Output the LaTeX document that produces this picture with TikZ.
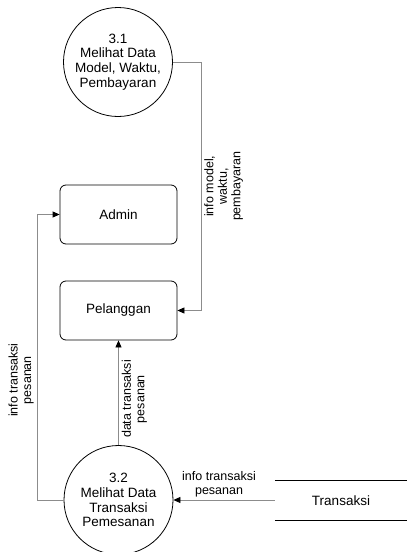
\documentclass[tikz,border=0pt]{standalone}
\usepackage{fontspec}
\setmainfont{Liberation Sans}
\usetikzlibrary{arrows.meta}

\begin{document}
\begin{tikzpicture}[x=1pt,y=-1pt,
	proc/.style={draw,circle,minimum size=109pt,inner sep=0pt,align=center,line width=0.8pt,font=\fontsize{13.5}{14.7}\selectfont},
	ent/.style={draw,rounded corners=6pt,minimum width=117pt,minimum height=59pt,line width=0.8pt,font=\fontsize{13.5}{14.7}\selectfont},
	flow/.style={draw=gray!90,line width=0.8pt,-{Triangle[length=7pt,width=6pt,color=black]}},
	lab/.style={align=center,inner sep=3pt,font=\fontsize{12.5}{13.5}\selectfont}]
	\useasboundingbox (0,0) rectangle (407,552);
	
	\node[proc] (p31) at (118,62) {3.1\\Melihat Data\\Model, Waktu,\\Pembayaran};
	\node[ent] (admin) at (118.5,214.5) {Admin};
	\node[ent] (pelanggan) at (118.5,310.5) {Pelanggan};
	\node[proc] (p32) at (118.5,500) {3.2\\Melihat Data\\Transaksi\\Pemesanan};
	\node[minimum width=132pt,minimum height=39pt,inner sep=0pt,font=\fontsize{13.5}{14.7}\selectfont] (transaksi) at (341,500.5) {Transaksi};
	\coordinate (k1) at (201,0);
	\coordinate (k2) at (37,0);
	
	\draw[line width=0.8pt] (transaksi.north west) -- (transaksi.north east);
	\draw[line width=0.8pt] (transaksi.south west) -- (transaksi.south east);
	
	\draw[flow] (p31.east) -| node[lab,rotate=90,anchor=north,pos=0.75] {info model,\\waktu,\\pembayaran} (k1 |- pelanggan.east) -- (pelanggan.east);
	\draw[flow] (p32.west) -| node[lab,rotate=90,anchor=south,pos=0.71] {info transaksi\\pesanan} (k2 |- admin.west) -- (admin.west);
	\draw[flow] (p32.north) -- node[lab,rotate=90,anchor=north,pos=0.44] {data transaksi\\pesanan} (pelanggan.south);
	\draw[flow] (transaksi.west |- p32.east) -- node[lab,above,pos=0.55] {info transaksi\\pesanan} (p32.east);
\end{tikzpicture}
\end{document}
